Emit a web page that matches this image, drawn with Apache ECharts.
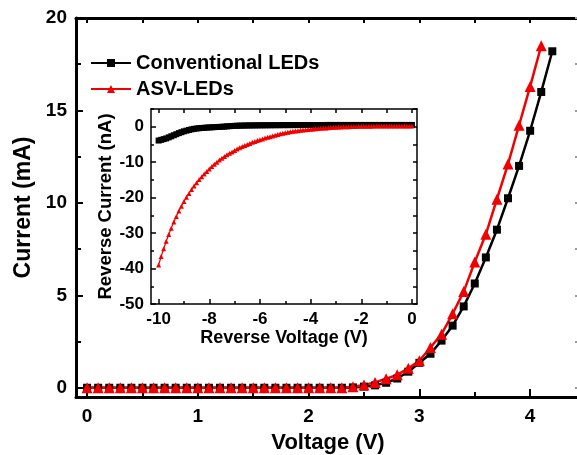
<!DOCTYPE html>
<html>
<head>
<meta charset="utf-8">
<script src="https://cdn.jsdelivr.net/npm/echarts@6/dist/echarts.min.js"></script>
<style>
  html, body { margin: 0; padding: 0; background: #fff; }
  #chart { width: 577px; height: 455px; }
</style>
</head>
<body>
<div id="chart"></div>
<script>
// 正向 I-V 数据（主图）
const fwdVoltage = [0.0, 0.1, 0.2, 0.3, 0.4, 0.5, 0.6, 0.7, 0.8, 0.9, 1.0, 1.1, 1.2, 1.3, 1.4, 1.5, 1.6, 1.7, 1.8, 1.9, 2.0, 2.1, 2.2, 2.3, 2.4, 2.5, 2.6, 2.7, 2.8, 2.9, 3.0, 3.1, 3.2, 3.3, 3.4, 3.5, 3.6, 3.7, 3.8, 3.9, 4.0, 4.1, 4.2];
const convCurrent = [0, 0, 0, 0, 0, 0, 0, 0, 0, 0, 0, 0, 0, 0, 0, 0, 0, 0, 0, 0, 0, 0, 0, 0, 0.02, 0.06, 0.13, 0.27, 0.5, 0.87, 1.35, 1.84, 2.55, 3.36, 4.4, 5.64, 7.05, 8.55, 10.25, 12.0, 13.9, 16.0, 18.2];
const asvCurrent = [0, 0, 0, 0, 0, 0, 0, 0, 0, 0, 0, 0, 0, 0, 0, 0, 0, 0, 0, 0, 0, 0, 0, 0, 0.05, 0.15, 0.29, 0.49, 0.7, 1.05, 1.46, 2.18, 2.9, 4.0, 5.2, 6.8, 8.3, 10.2, 12.1, 14.2, 16.3, 18.5];

// 反向漏电流数据（插图）
const revVoltage = [-10.0, -9.9, -9.8, -9.7, -9.6, -9.5, -9.4, -9.3, -9.2, -9.1, -9.0, -8.9, -8.8, -8.7, -8.6, -8.5, -8.4, -8.3, -8.2, -8.1, -8.0, -7.9, -7.8, -7.7, -7.6, -7.5, -7.4, -7.3, -7.2, -7.1, -7.0, -6.9, -6.8, -6.7, -6.6, -6.5, -6.4, -6.3, -6.2, -6.1, -6.0, -5.9, -5.8, -5.7, -5.6, -5.5, -5.4, -5.3, -5.2, -5.1, -5.0, -4.9, -4.8, -4.7, -4.6, -4.5, -4.4, -4.3, -4.2, -4.1, -4.0, -3.9, -3.8, -3.7, -3.6, -3.5, -3.4, -3.3, -3.2, -3.1, -3.0, -2.9, -2.8, -2.7, -2.6, -2.5, -2.4, -2.3, -2.2, -2.1, -2.0, -1.9, -1.8, -1.7, -1.6, -1.5, -1.4, -1.3, -1.2, -1.1, -1.0, -0.9, -0.8, -0.7, -0.6, -0.5, -0.4, -0.3, -0.2, -0.1, 0.0];
const convReverse = [-3.9, -3.7, -3.5, -3.3, -3.0, -2.7, -2.4, -2.1, -1.8, -1.55, -1.3, -1.1, -0.9, -0.75, -0.6, -0.5, -0.42, -0.35, -0.3, -0.25, -0.2, -0.16, -0.12, -0.08, -0.05, -0.02, 0.05, 0.1, 0.15, 0.2, 0.25, 0.28, 0.3, 0.32, 0.34, 0.35, 0.36, 0.37, 0.38, 0.39, 0.4, 0.4, 0.41, 0.42, 0.42, 0.43, 0.43, 0.44, 0.44, 0.45, 0.45, 0.45, 0.46, 0.46, 0.46, 0.47, 0.47, 0.47, 0.48, 0.48, 0.48, 0.48, 0.49, 0.49, 0.49, 0.49, 0.5, 0.5, 0.5, 0.5, 0.5, 0.5, 0.5, 0.5, 0.5, 0.5, 0.5, 0.5, 0.5, 0.5, 0.5, 0.5, 0.5, 0.5, 0.5, 0.5, 0.5, 0.5, 0.5, 0.5, 0.5, 0.5, 0.5, 0.5, 0.5, 0.5, 0.5, 0.5, 0.5, 0.5, 0.5];
const asvReverse = [-39.0, -36.6, -34.4, -32.3, -30.4, -28.6, -26.9, -25.3, -23.8, -22.4, -21.1, -19.9, -18.8, -17.7, -16.7, -15.8, -14.9, -14.1, -13.3, -12.6, -11.9, -11.2, -10.6, -10.0, -9.4, -8.9, -8.4, -7.9, -7.5, -7.1, -6.7, -6.3, -5.9, -5.6, -5.3, -5.0, -4.7, -4.4, -4.2, -3.9, -3.7, -3.45, -3.2, -3.0, -2.8, -2.6, -2.4, -2.2, -2.0, -1.85, -1.7, -1.55, -1.4, -1.3, -1.2, -1.1, -1.0, -0.92, -0.85, -0.77, -0.7, -0.62, -0.55, -0.5, -0.44, -0.38, -0.33, -0.28, -0.23, -0.18, -0.14, -0.1, -0.07, -0.04, -0.01, 0.02, 0.04, 0.06, 0.08, 0.1, 0.12, 0.13, 0.14, 0.15, 0.16, 0.17, 0.18, 0.19, 0.2, 0.2, 0.21, 0.21, 0.22, 0.22, 0.22, 0.23, 0.23, 0.23, 0.24, 0.24, 0.24];

// 刻度
const mainXLabels = [0, 1, 2, 3, 4];
const mainXMinor = [0.5, 1.5, 2.5, 3.5];
const mainYLabels = [0, 5, 10, 15, 20];
const mainYMinor = [2.5, 7.5, 12.5, 17.5];
const insetXLabels = [-10, -8, -6, -4, -2, 0];
const insetXMinor = [-9, -7, -5, -3, -1];
const insetYLabels = [-50, -40, -30, -20, -10, 0];
const insetYMinor = [-45, -35, -25, -15, -5, 5];

const FONT = "'Liberation Sans', Arial, sans-serif";
const RED = '#f20000';

function pairs(xs, ys) {
    return ys.map((y, i) => [xs[i], y]);
}

// 通用坐标轴：只画刻度（向内），可选显示轴线和标签
function axis(opt) {
    return {
        type: 'value',
        gridIndex: opt.grid,
        position: opt.pos,
        min: opt.min,
        max: opt.max,
        name: opt.name || '',
        nameLocation: 'middle',
        nameGap: opt.nameGap || 0,
        nameTextStyle: { fontFamily: FONT, fontWeight: 'bold', fontSize: opt.nameSize || 20, color: '#000' },
        axisLine: { show: !!opt.line, onZero: false, lineStyle: { color: '#000', width: opt.line || 1 } },
        axisTick: {
            show: true, inside: true, length: opt.tickLen,
            customValues: opt.ticks,
            lineStyle: { color: opt.tickColor || '#000', width: opt.tickWidth || 2 }
        },
        axisLabel: opt.labels ? {
            show: true, customValues: opt.labels, margin: opt.margin || 8,
            fontFamily: FONT, fontWeight: 'bold', fontSize: opt.labelSize || 19, color: '#000'
        } : { show: false },
        splitLine: { show: false }
    };
}

const chart = echarts.init(document.getElementById('chart'));

const option = {
    animation: false,
    backgroundColor: '#fff',
    grid: [
        { left: 76, top: 18, right: -3, bottom: 58, containLabel: false, outerBoundsMode: 'none' },
        { left: 151, top: 109, right: 160, bottom: 151, containLabel: false, outerBoundsMode: 'none',
          show: true, backgroundColor: '#fff', borderWidth: 0 }
    ],
    legend: {
        data: ['Conventional LEDs', 'ASV-LEDs'],
        orient: 'vertical',
        left: 85,
        top: 48,
        itemWidth: 40,
        itemHeight: 10,
        itemGap: 6,
        textStyle: { fontFamily: FONT, fontWeight: 'bold', fontSize: 20, color: '#000', lineHeight: 20 }
    },
    xAxis: [
        // 主图
        axis({ grid: 0, pos: 'bottom', min: -0.1, max: 4.45, line: 3, tickLen: 8, ticks: mainXLabels, labels: mainXLabels,
               margin: 10, name: 'Voltage (V)', nameGap: 35, nameSize: 22 }),
        axis({ grid: 0, pos: 'bottom', min: -0.1, max: 4.45, tickLen: 5, ticks: mainXMinor }),
        axis({ grid: 0, pos: 'top', min: -0.1, max: 4.45, line: 3, tickLen: 5, ticks: mainXLabels.concat(mainXMinor) }),
        // 插图
        axis({ grid: 1, pos: 'bottom', min: -10.3, max: 0.2, line: 1.5, tickLen: 5, tickWidth: 1.5, ticks: insetXLabels,
               labels: insetXLabels, labelSize: 17, margin: 7, name: 'Reverse Voltage (V)', nameGap: 24, nameSize: 18 }),
        axis({ grid: 1, pos: 'bottom', min: -10.3, max: 0.2, tickLen: 3, tickWidth: 1.5, ticks: insetXMinor }),
        axis({ grid: 1, pos: 'top', min: -10.3, max: 0.2, line: 1.5, tickLen: 4, tickWidth: 1.5, ticks: insetXLabels.concat(insetXMinor) })
    ],
    yAxis: [
        axis({ grid: 0, pos: 'left', min: -0.5, max: 20, line: 3, tickLen: 7, ticks: mainYLabels, labels: mainYLabels,
               margin: 9, name: 'Current (mA)', nameGap: 41, nameSize: 23 }),
        axis({ grid: 0, pos: 'left', min: -0.5, max: 20, tickLen: 5, ticks: mainYMinor }),
        axis({ grid: 0, pos: 'right', min: -0.5, max: 20, line: 3, tickLen: 5, tickColor: '#999',
               ticks: mainYLabels.concat(mainYMinor) }),
        axis({ grid: 1, pos: 'left', min: -50, max: 5, line: 1.5, tickLen: 5, tickWidth: 1.5, ticks: insetYLabels,
               labels: insetYLabels, labelSize: 17, margin: 7, name: 'Reverse Current (nA)', nameGap: 35, nameSize: 18.5 }),
        axis({ grid: 1, pos: 'left', min: -50, max: 5, tickLen: 3, tickWidth: 1.5, ticks: insetYMinor }),
        axis({ grid: 1, pos: 'right', min: -50, max: 5, line: 1.5, tickLen: 4, tickWidth: 1.5, ticks: insetYLabels.concat(insetYMinor) })
    ],
    series: [
        {
            name: 'Conventional LEDs', type: 'line', xAxisIndex: 0, yAxisIndex: 0,
            data: pairs(fwdVoltage, convCurrent),
            symbol: 'rect', symbolSize: 8,
            lineStyle: { color: '#000', width: 2.5 }, itemStyle: { color: '#000' }
        },
        {
            name: 'ASV-LEDs', type: 'line', xAxisIndex: 0, yAxisIndex: 0,
            data: pairs(fwdVoltage, asvCurrent),
            symbol: 'triangle', symbolSize: 11,
            lineStyle: { color: RED, width: 2.5 }, itemStyle: { color: RED }
        },
        {
            name: 'Conventional LEDs (reverse)', type: 'line', xAxisIndex: 3, yAxisIndex: 3,
            data: pairs(revVoltage, convReverse),
            symbol: 'rect', symbolSize: 6,
            lineStyle: { color: '#000', width: 2 }, itemStyle: { color: '#000' }
        },
        {
            name: 'ASV-LEDs (reverse)', type: 'line', xAxisIndex: 3, yAxisIndex: 3,
            data: pairs(revVoltage, asvReverse),
            symbol: 'triangle', symbolSize: 5,
            lineStyle: { color: RED, width: 1.2 }, itemStyle: { color: RED }
        }
    ]
};

chart.setOption(option);
window.addEventListener('resize', () => chart.resize());
</script>
</body>
</html>
